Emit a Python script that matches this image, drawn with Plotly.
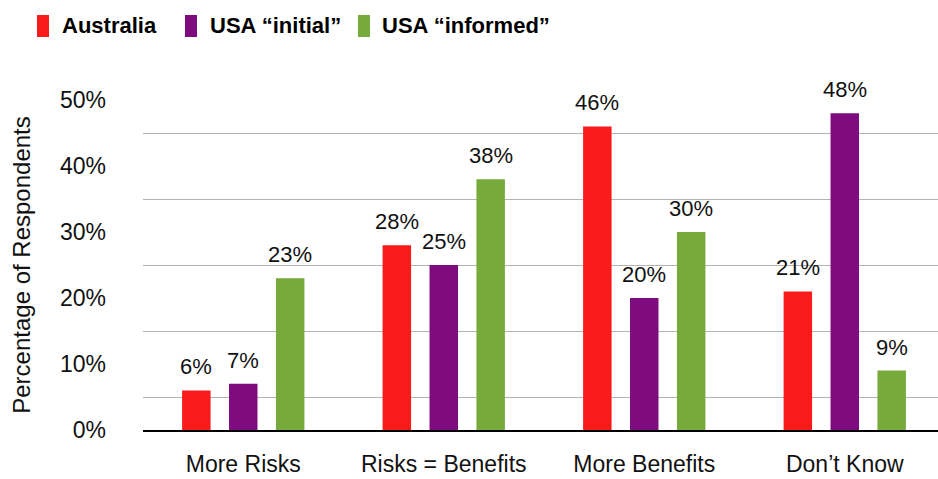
import plotly.graph_objects as go

# ---- data ----
categories = ["More Risks", "Risks = Benefits", "More Benefits", "Don’t Know"]
series_names = ["Australia", "USA “initial”", "USA “informed”"]
australia = [6, 28, 46, 21]
usa_initial = [7, 25, 20, 48]
usa_informed = [23, 38, 30, 9]
y_tick_values = [0, 10, 20, 30, 40, 50]
y_tick_labels = ["0%", "10%", "20%", "30%", "40%", "50%"]
grid_values = [5, 15, 25, 35, 45]

# ---- styling ----
colors = ["#f91a1a", "#7e0c7e", "#76aa3a"]
FONT = "Liberation Sans, Arial, Helvetica, sans-serif"
W, H = 938, 479
L, T, B, R = 143, 100, 49, 0
plot_w = W - L - R
plot_h = H - T - B

bar_width = 0.142
slot = 0.234
offsets = [-slot, 0.0, slot]


def px_x(px):
    return (px - L) / plot_w


def px_y(py):
    return (H - B - py) / plot_h


fig = go.Figure()
xs = list(range(len(categories)))
all_series = [australia, usa_initial, usa_informed]

for name, vals, color, off in zip(series_names, all_series, colors, offsets):
    fig.add_trace(go.Bar(
        x=xs, y=vals, name=name,
        width=bar_width, offset=off - bar_width / 2,
        marker=dict(color=color, line=dict(width=0)),
        showlegend=False, hoverinfo="skip",
    ))
    for xi, v in zip(xs, vals):
        fig.add_annotation(
            x=xi + off, y=v, text=f"{v}%", showarrow=False,
            yanchor="bottom", yshift=9,
            font=dict(family=FONT, size=22, color="#111111"),
        )

# legend drawn as coloured bars with bold labels across the top
legend_box_x = [37, 185, 358]
legend_text_x = [60, 208, 380]
for name, color, bx, tx in zip(series_names, colors, legend_box_x, legend_text_x):
    fig.add_shape(
        type="rect", xref="paper", yref="paper",
        x0=px_x(bx), x1=px_x(bx + 12), y0=px_y(37), y1=px_y(15),
        fillcolor=color, line=dict(width=0),
    )
    fig.add_annotation(
        xref="paper", yref="paper", x=px_x(tx), y=px_y(25),
        xanchor="left", yanchor="middle", showarrow=False,
        text=f"<b>{name}</b>",
        font=dict(family=FONT, size=22, color="black"),
    )

fig.update_layout(
    width=W, height=H,
    margin=dict(l=L, r=R, t=T, b=B, autoexpand=False),
    paper_bgcolor="white", plot_bgcolor="white",
    barmode="overlay",
    showlegend=False,
    font=dict(family=FONT, color="#111111"),
    xaxis=dict(
        range=[-0.5, 3.465], tickmode="array", tickvals=xs, ticktext=categories,
        showgrid=False, zeroline=False, ticks="",
        showline=True, linecolor="black", linewidth=2,
        tickfont=dict(family=FONT, size=23, color="#111111"),
        ticklabelstandoff=12, fixedrange=True,
    ),
    yaxis=dict(
        range=[0, 50], tickmode="array", tickvals=y_tick_values, ticktext=y_tick_labels,
        showgrid=False, zeroline=False, ticks="", showline=False,
        tickfont=dict(family=FONT, size=23, color="#111111"),
        ticklabelstandoff=36,
        minor=dict(tickmode="array", tickvals=grid_values, showgrid=True,
                   gridcolor="#b3b3b3", gridwidth=1, ticks=""),
        title=dict(text="Percentage of Respondents", standoff=22,
                   font=dict(family=FONT, size=24, color="#111111")),
        automargin=False, fixedrange=True,
    ),
)

fig.write_html("out.html")
